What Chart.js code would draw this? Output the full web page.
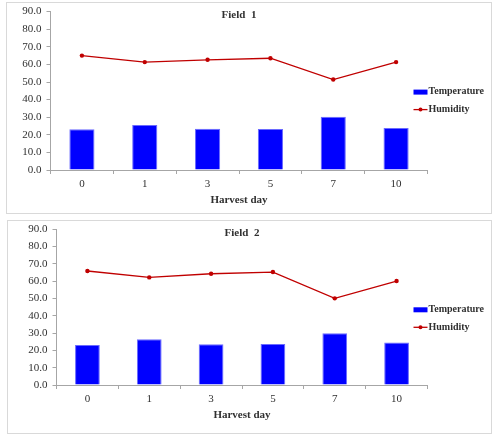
<!DOCTYPE html>
<html>
<head>
<meta charset="utf-8">
<script src="https://cdn.jsdelivr.net/npm/chart.js@4.4.1/dist/chart.umd.min.js"></script>
<style>
  body { margin: 0; background: #fff; width: 496px; height: 436px; position: relative; overflow: hidden; }
  canvas { position: absolute; left: 0; }
  .frame { position: absolute; border: 1px solid #d9d9d9; box-sizing: border-box; pointer-events: none; }
</style>
</head>
<body>
<div class="frame" style="left:6px; top:2px; width:486px; height:212px;"></div>
<div class="frame" style="left:7px; top:220px; width:485px; height:214px;"></div>
<canvas id="field1" width="496" height="216" style="top:0; width:496px; height:216px;"></canvas>
<canvas id="field2" width="496" height="220" style="top:216px; width:496px; height:220px;"></canvas>
<script>
// harvest days on the x axis
const harvestDays = ['0', '1', '3', '5', '7', '10'];

// Field 1
const field1Temperature = [23.1, 25.5, 23.5, 23.3, 30.2, 23.9];
const field1Humidity = [65.0, 61.3, 62.6, 63.5, 51.4, 61.3];

// Field 2
const field2Temperature = [23.1, 26.4, 23.5, 23.7, 29.9, 24.5];
const field2Humidity = [65.9, 62.2, 64.3, 65.3, 50.1, 60.1];

const yMin = 0;
const yMax = 90;
const yStep = 10;

const axisGrey = '#a6a6a6';
const textColor = '#303030';
const barBlue = '#0000ff';
const lineRed = '#c00000';
const serif = "'Liberation Serif', 'Times New Roman', serif";

// draws the "Field n" title and the legend on the right
const overlayPlugin = {
    id: 'overlay',
    afterDraw(chart, args, opts) {
        const ctx = chart.ctx;
        const area = chart.chartArea;
        ctx.save();
        ctx.fillStyle = textColor;
        ctx.font = 'bold 11px ' + serif;
        ctx.textAlign = 'center';
        ctx.textBaseline = 'middle';
        ctx.fillText(opts.title, (area.left + area.right) / 2, area.top + 4);

        const lx = area.right - 14;
        const rows = [area.top + 80, area.top + 98];
        ctx.font = 'bold 10px ' + serif;
        ctx.textAlign = 'left';

        // temperature: blue box
        ctx.fillStyle = barBlue;
        ctx.fillRect(lx, rows[0] - 2, 14, 5);
        ctx.fillStyle = textColor;
        ctx.fillText('Temperature', lx + 15, rows[0]);

        // humidity: line with dot
        ctx.strokeStyle = lineRed;
        ctx.lineWidth = 1.3;
        ctx.beginPath();
        ctx.moveTo(lx, rows[1]);
        ctx.lineTo(lx + 14, rows[1]);
        ctx.stroke();
        ctx.fillStyle = lineRed;
        ctx.beginPath();
        ctx.arc(lx + 7, rows[1], 2, 0, Math.PI * 2);
        ctx.fill();
        ctx.fillStyle = textColor;
        ctx.fillText('Humidity', lx + 15, rows[1]);
        ctx.restore();
    }
};

function makeChart(id, title, temps, hums, pad) {
    const ctx = document.getElementById(id).getContext('2d');
    return new Chart(ctx, {
        type: 'bar',
        data: {
            labels: harvestDays,
            datasets: [{
                type: 'line',
                label: 'Humidity',
                data: hums,
                borderColor: lineRed,
                backgroundColor: lineRed,
                borderWidth: 1.3,
                pointRadius: 2.2,
                pointBorderWidth: 0,
                pointHoverRadius: 2.2,
                tension: 0,
                order: 0
            }, {
                label: 'Temperature',
                data: temps,
                backgroundColor: barBlue,
                borderColor: '#6a6aff',
                borderWidth: 1,
                barPercentage: 0.4,
                categoryPercentage: 1.0,
                order: 1
            }]
        },
        options: {
            responsive: false,
            animation: false,
            events: [],
            layout: { padding: pad },
            plugins: {
                legend: { display: false },
                tooltip: { enabled: false },
                overlay: { title: title }
            },
            scales: {
                x: {
                    offset: true,
                    grid: { display: true, drawOnChartArea: false, offset: true, tickLength: 4, color: axisGrey },
                    border: { color: axisGrey },
                    ticks: { color: textColor, font: { family: serif, size: 11 }, padding: 4 },
                    title: {
                        display: true,
                        text: 'Harvest day',
                        color: textColor,
                        font: { family: serif, size: 11, weight: 'bold' },
                        padding: { top: 4, bottom: 3 }
                    },
                    afterFit: (scale) => { scale.height = 40; }
                },
                y: {
                    min: yMin,
                    max: yMax,
                    grid: { display: true, drawOnChartArea: false, tickLength: 4, color: axisGrey },
                    border: { color: axisGrey },
                    ticks: {
                        stepSize: yStep,
                        color: textColor,
                        font: { family: serif, size: 11 },
                        padding: 5,
                        callback: (v) => Number(v).toFixed(1)
                    },
                    afterFit: (scale) => { scale.width = 44; }
                }
            }
        },
        plugins: [overlayPlugin]
    });
}

makeChart('field1', 'Field  1', field1Temperature, field1Humidity,
    { left: 6.5, right: 68.5, top: 9, bottom: 6 });
makeChart('field2', 'Field  2', field2Temperature, field2Humidity,
    { left: 12.5, right: 68.5, top: 13.3, bottom: 11 });
</script>
</body>
</html>
